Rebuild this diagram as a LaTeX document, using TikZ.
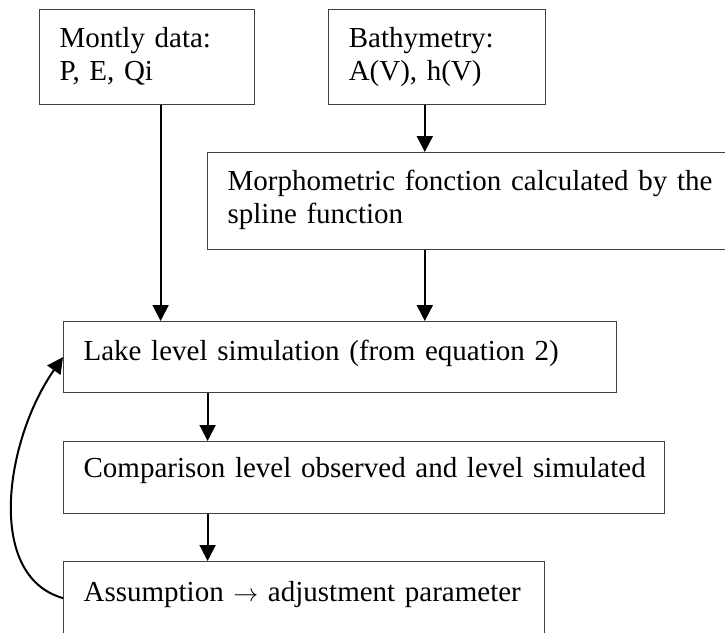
\documentclass[tikz,border=0pt]{standalone}
\usepackage{fontspec}
\setmainfont{Liberation Serif}
\usetikzlibrary{positioning, arrows.meta}

\begin{document}
\begin{tikzpicture}[
        x=1pt, y=-1pt,
        font=\fontsize{29}{33}\selectfont,
        box/.style={rectangle, draw=black!75, line width=1.2pt, anchor=north west, align=left, inner xsep=20pt, inner ysep=0pt},
        arrow/.style={-{Triangle[length=16pt, width=16pt]}, line width=2pt}
    ]
    \useasboundingbox (0,0) rectangle (725,632);
    \clip (0,0) rectangle (725,632);

    \node (data) [box, text width=175pt, text height=38pt, text depth=57pt] at (39,9) {Montly data:\\P, E, Qi};
    \node (bathy) [box, text width=177pt, text height=38pt, text depth=57pt, right=73pt of data] {Bathymetry:\\A(V), h(V)};
    \node (morph) [box, text width=520pt, text height=38pt, text depth=59pt] at (207,152) {\mbox{Morphometric fonction calculated by the}\\spline function};

    \node (lake) [box, text width=513pt, text height=39pt, text depth=32pt] at (63,321) {\mbox{Lake level simulation (from equation 2)}};
    \node (comp) [box, text width=561pt, text height=36pt, text depth=36pt] at (63,441) {\mbox{Comparison level observed and level simulated}};
    \node (assume) [box, text width=441pt, text height=40pt, text depth=33pt] at (63,561) {\mbox{Assumption $\rightarrow$ adjustment parameter}};

    \draw [arrow] ([xshift=13.5pt]data.south) -- ([xshift=13.5pt]data.south |- lake.north);
    \draw [arrow] ([xshift=-12.5pt]bathy.south) -- ([xshift=-12.5pt]bathy.south |- morph.north);
    \draw [arrow] ([xshift=-12.5pt]bathy.south |- morph.south) -- ([xshift=-12.5pt]bathy.south |- lake.north);

    \draw [arrow] ([xshift=-132.5pt]lake.south) -- ([xshift=-132.5pt]lake.south |- comp.north);
    \draw [arrow] ([xshift=-132.5pt]lake.south |- comp.south) -- ([xshift=-132.5pt]lake.south |- assume.north);

    % feedback loop
    \draw [arrow] (assume.west) .. controls +(-78,-22) and +(-58,83) .. (lake.west);

\end{tikzpicture}
\end{document}
